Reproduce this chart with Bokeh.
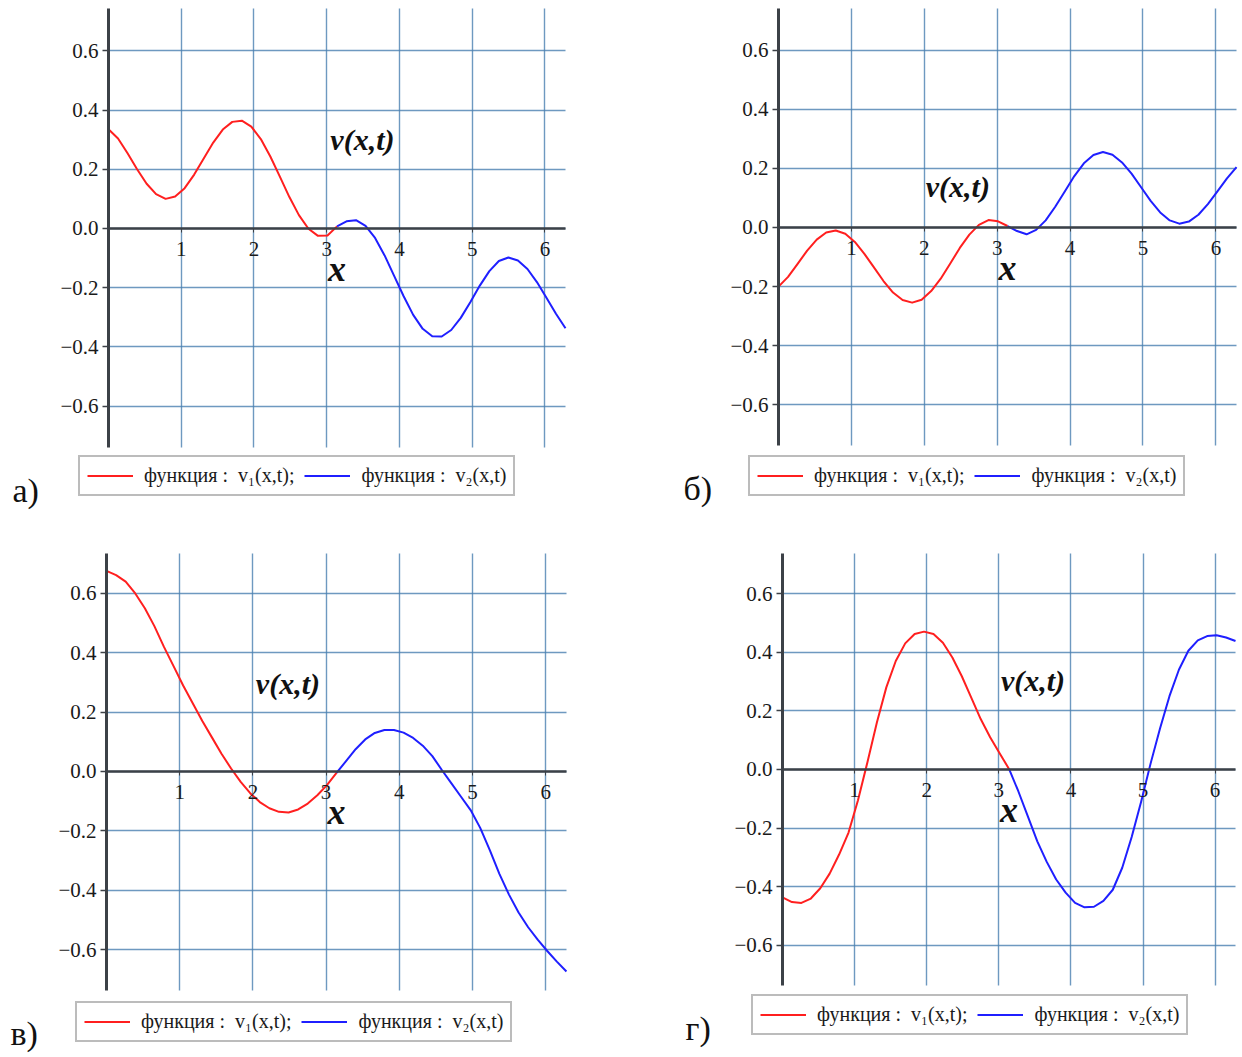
import numpy as np
from bokeh.plotting import figure
from bokeh.layouts import column, row
from bokeh.models import (Range1d, FixedTicker, Legend, LegendItem, Label,
                          CustomJSTickFormatter, Grid)
from bokeh.embed import file_html
from bokeh.resources import INLINE

# ---------------- data ----------------
X_V1 = [0.000, 0.131, 0.262, 0.393, 0.524, 0.654, 0.785, 0.916, 1.047, 1.178,
        1.309, 1.440, 1.571, 1.702, 1.833, 1.963, 2.094, 2.225, 2.356, 2.487,
        2.618, 2.749, 2.880, 3.011, 3.142]
X_V2 = [3.142, 3.272, 3.403, 3.534, 3.665, 3.796, 3.927, 4.058, 4.189, 4.320,
        4.451, 4.581, 4.712, 4.843, 4.974, 5.105, 5.236, 5.367, 5.498, 5.629,
        5.760, 5.890, 6.021, 6.152, 6.283]

# panel а)
A_V1 = [0.335, 0.304, 0.254, 0.200, 0.151, 0.116, 0.100, 0.108, 0.136, 0.182,
        0.236, 0.290, 0.334, 0.360, 0.364, 0.344, 0.302, 0.243, 0.175, 0.106,
        0.045, -0.001, -0.025, -0.024, 0.007]
A_V2 = [0.007, 0.024, 0.028, 0.009, -0.032, -0.091, -0.160, -0.229, -0.292, -0.339,
        -0.364, -0.365, -0.343, -0.302, -0.249, -0.193, -0.144, -0.110, -0.098, -0.108,
        -0.137, -0.181, -0.234, -0.288, -0.337]
# panel б)
B_V1 = [-0.200, -0.167, -0.123, -0.078, -0.041, -0.017, -0.010, -0.021, -0.049, -0.089,
        -0.135, -0.181, -0.220, -0.245, -0.254, -0.244, -0.215, -0.173, -0.122, -0.069,
        -0.024, 0.009, 0.025, 0.021, 0.005]
B_V2 = [0.005, -0.012, -0.023, -0.008, 0.024, 0.070, 0.122, 0.174, 0.217, 0.245,
        0.255, 0.246, 0.220, 0.182, 0.136, 0.090, 0.051, 0.024, 0.013, 0.020,
        0.043, 0.079, 0.122, 0.166, 0.204]
# panel в)
C_V1 = [0.676, 0.662, 0.640, 0.600, 0.550, 0.490, 0.420, 0.355, 0.290, 0.230,
        0.170, 0.115, 0.060, 0.010, -0.035, -0.073, -0.103, -0.124, -0.136, -0.138,
        -0.128, -0.108, -0.080, -0.046, -0.005]
C_V2 = [-0.005, 0.035, 0.075, 0.108, 0.130, 0.140, 0.140, 0.131, 0.113, 0.087,
        0.052, 0.005, -0.040, -0.085, -0.130, -0.190, -0.265, -0.345, -0.415, -0.475,
        -0.525, -0.567, -0.605, -0.641, -0.674]
# panel г)
D_V1 = [-0.436, -0.452, -0.455, -0.440, -0.405, -0.355, -0.290, -0.215, -0.105, 0.025,
        0.160, 0.280, 0.370, 0.430, 0.462, 0.470, 0.462, 0.432, 0.382, 0.318,
        0.245, 0.172, 0.110, 0.055, 0.002]
D_V2 = [0.002, -0.075, -0.160, -0.245, -0.315, -0.375, -0.420, -0.455, -0.470, -0.468,
        -0.448, -0.410, -0.335, -0.230, -0.110, 0.020, 0.140, 0.250, 0.340, 0.405,
        0.440, 0.455, 0.458, 0.450, 0.438]

Y_TICKS = [-0.6, -0.4, -0.2, 0.0, 0.2, 0.4, 0.6]
X_TICKS = [1, 2, 3, 4, 5, 6]
LEGEND_LABELS = ["функция :  v\u2081(x,t);", "функция :  v\u2082(x,t)"]
PANEL_TAGS = ["а)", "б)", "в)", "г)"]
Y_LABEL = "v(x,t)"
X_LABEL = "x"

FONT = "Liberation Serif"
AXIS_COLOR = "#3c4147"
GRID_COLOR = "#4a7fb0"
RED = "#ff1f1f"
BLUE = "#1f1fff"
X_MAX = 2 * np.pi

HAS_CROSS = "cross_bounds" in Grid.properties()


def make_panel(v1, v2, tag, W, H, xr, yr, ybounds, vxy, leg_xy, tag_xy):
    p = figure(width=W, height=H, x_range=Range1d(*xr), y_range=Range1d(*yr),
               output_backend="svg", toolbar_location=None,
               min_border_left=0, min_border_right=0,
               min_border_top=0, min_border_bottom=0)
    p.outline_line_color = None
    p.background_fill_color = "white"
    p.border_fill_color = "white"

    xt = FixedTicker(ticks=X_TICKS)
    yt = FixedTicker(ticks=Y_TICKS)

    # grid lines limited to the plotting box
    if HAS_CROSS:
        p.xgrid.ticker = xt
        p.ygrid.ticker = yt
        p.xgrid.cross_bounds = ybounds
        p.ygrid.cross_bounds = (0, X_MAX)
        for g in (p.xgrid, p.ygrid):
            g.grid_line_color = GRID_COLOR
            g.grid_line_alpha = 0.8
            g.grid_line_width = 1.4
    else:
        p.xgrid.visible = False
        p.ygrid.visible = False
        p.segment(x0=X_TICKS, y0=[ybounds[0]] * len(X_TICKS),
                  x1=X_TICKS, y1=[ybounds[1]] * len(X_TICKS),
                  line_color=GRID_COLOR, line_alpha=0.8, line_width=1.4)
        p.segment(x0=[0] * len(Y_TICKS), y0=Y_TICKS,
                  x1=[X_MAX] * len(Y_TICKS), y1=Y_TICKS,
                  line_color=GRID_COLOR, line_alpha=0.8, line_width=1.4)

    r1 = p.line(X_V1, v1, line_color=RED, line_width=2, line_join="round")
    r2 = p.line(X_V2, v2, line_color=BLUE, line_width=2, line_join="round")

    xa = p.xaxis[0]
    xa.fixed_location = 0
    xa.bounds = (0, X_MAX)
    xa.ticker = xt
    xa.axis_line_color = AXIS_COLOR
    xa.axis_line_width = 2.5
    xa.major_tick_line_color = AXIS_COLOR
    xa.major_tick_out = 4
    xa.major_tick_in = 0
    xa.minor_tick_line_color = None
    xa.major_label_standoff = 10
    xa.major_label_text_font = FONT
    xa.major_label_text_font_size = "21px"
    xa.major_label_text_color = "#1a1a1a"
    xa.axis_label = X_LABEL
    xa.axis_label_text_font = FONT
    xa.axis_label_text_font_style = "bold italic"
    xa.axis_label_text_font_size = "36px"
    xa.axis_label_text_color = "#111111"
    xa.axis_label_standoff = -11

    ya = p.yaxis[0]
    ya.fixed_location = 0
    ya.bounds = ybounds
    ya.ticker = yt
    ya.formatter = CustomJSTickFormatter(
        code="return tick.toFixed(1).replace('-', '\\u2212');")
    ya.axis_line_color = AXIS_COLOR
    ya.axis_line_width = 3
    ya.major_tick_line_color = AXIS_COLOR
    ya.major_tick_line_width = 1.5
    ya.major_tick_out = 6
    ya.major_tick_in = 0
    ya.minor_tick_line_color = None
    ya.major_label_standoff = 4
    ya.major_label_text_font = FONT
    ya.major_label_text_font_size = "21px"
    ya.major_label_text_color = "#1a1a1a"

    p.add_layout(Label(x=vxy[0], y=vxy[1], text=Y_LABEL, text_font=FONT,
                       text_font_style="bold italic", text_font_size="30px",
                       text_baseline="middle", text_color="#111111"))

    legend = Legend(items=[LegendItem(label=LEGEND_LABELS[0], renderers=[r1]),
                           LegendItem(label=LEGEND_LABELS[1], renderers=[r2])],
                    orientation="horizontal", location=leg_xy,
                    margin=0, padding=7, spacing=10, glyph_width=46,
                    glyph_height=21, label_standoff=11, label_height=21,
                    label_text_font=FONT, label_text_font_size="20px",
                    label_text_color="#1a1a1a",
                    border_line_color="#7a7a7a", border_line_width=2.5,
                    background_fill_color="white", background_fill_alpha=1)
    p.add_layout(legend, "center")

    p.add_layout(Label(x=tag_xy[0], y=tag_xy[1], x_units="screen", y_units="screen",
                       text=tag, text_font=FONT, text_font_size="34px",
                       text_baseline="middle", text_color="#111111"))
    return p


pa = make_panel(A_V1, A_V2, PANEL_TAGS[0], 621, 528,
                (-1.485, 7.053), (-1.0135, 0.770), (-0.740, 0.743),
                (3.05, 0.30), (78, 32), (12, 38))
pb = make_panel(B_V1, B_V2, PANEL_TAGS[1], 621, 528,
                (-2.154, 6.365), (-1.0176, 0.7674), (-0.736, 0.740),
                (2.02, 0.139), (127, 32), (62, 40))
pc = make_panel(C_V1, C_V2, PANEL_TAGS[2], 621, 529,
                (-1.448, 7.035), (-0.964, 0.819), (-0.738, 0.735),
                (2.04, 0.297), (75, 15), (10, 24))
pd = make_panel(D_V1, D_V2, PANEL_TAGS[3], 621, 529,
                (-2.233, 6.380), (-0.982, 0.8217), (-0.7365, 0.7365),
                (3.03, 0.303), (130, 22), (64, 29))

layout = column(row(pa, pb), row(pc, pd))
open("out.html", "w").write(file_html(layout, INLINE))
